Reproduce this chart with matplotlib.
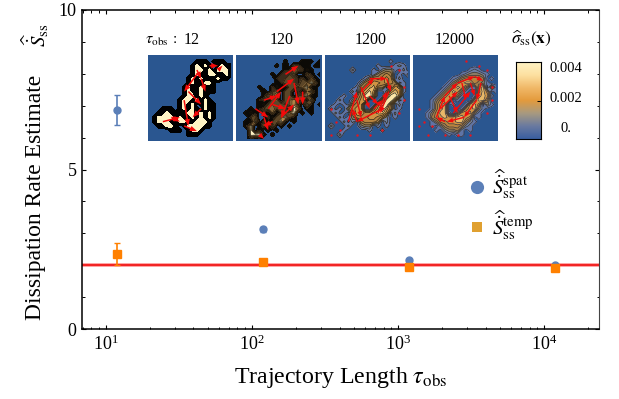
import numpy as np
import matplotlib
matplotlib.use("Agg")
import matplotlib.pyplot as plt
from matplotlib.colors import LinearSegmentedColormap
from matplotlib.ticker import LogLocator, NullFormatter, MultipleLocator

plt.rcParams['font.family'] = ['Liberation Serif', 'DejaVu Serif']
plt.rcParams['mathtext.fontset'] = 'stix'

tau_obs = [12, 120, 1200, 12000]
spat = [6.85, 3.12, 2.15, 2.0]
spat_err = [0.47, 0.08, 0.03, 0.02]
temp = [2.35, 2.1, 1.95, 1.92]
temp_err = [0.35, 0.1, 0.03, 0.02]
true_rate = 2.02

panel_titles = ["12", "120", "1200", "12000"]

# density of the entropy map, read by eye on a 20x20 grid (0-9)
grid_12 = [
    "....................",
    "...........222.222..",
    "..........29292.2922",
    "..........29929.9992",
    "..........2922992292",
    ".........29292.2922.",
    ".........2922992....",
    "........29.29.22....",
    "........29229222....",
    "........299292......",
    ".......29929292.....",
    ".......2929.2922....",
    "...222.29292.922....",
    "..22922229929292....",
    ".299992922929292....",
    ".29992299229992.....",
    "..22992.2999922.....",
    ".....222.2992.......",
    ".........222........",
    "....................",
]
grid_120 = [
    "....................",
    "...........2...222.2",
    ".........2.3.4423.22",
    "...........33544.2..",
    "........2.3444..53.2",
    ".........3445434.52.",
    ".........23554355942",
    ".....2..4.3.55459.2.",
    "......3.45.55.4.592.",
    "......2947.55.459.2.",
    ".....34.55.55745.9..",
    ".....3.45554573.92.2",
    "...2.3456455.96.22..",
    "..3.3.3.5.4459.2.2..",
    "...45..5.55942......",
    "..3.9.4.4592.2......",
    "..39.25.9.2.2.......",
    "...9.3.2.2..........",
    "...9992.2...........",
    "...3.2..............",
]
grid_1200 = [
    "....................",
    "...............1....",
    "............1...121.",
    "......2....1.2331.2.",
    "...........13454.1.2",
    ".........1354565.2..",
    "........245665654.1.",
    ".......1456744.3671.",
    "......2.5686..26761.",
    "....1..35895..5896..",
    "...2..2467...4895.1.",
    "..1.1.456...5794.2..",
    ".2.1.3566..46964.1..",
    "..2.1.467556775.2...",
    "...2.1355566542.1...",
    "....2.2.45554.2.....",
    ".2...2..233.1.1.....",
    "....1.....1..1......",
    "...2................",
    "....................",
]
grid_12000 = [
    "....................",
    "....................",
    "....................",
    ".............121....",
    "...........1233321..",
    ".........12455554.1.",
    "........1356775431..",
    ".......1357641167.51",
    "......1357631.0575.1",
    ".....1356641..16761.",
    "....13566.1...5774..",
    "....1467.1..1675.31.",
    "....14670..156731...",
    "...135771.366731....",
    "...14567667765.1....",
    "....13556677421.....",
    "....1.24555421......",
    ".....1.23341.1......",
    "........1.11........",
    "....................",
]
grids = [grid_12, grid_120, grid_1200, grid_12000]

# flow arrows on each map: x, y, dx, dy in grid cells
arrows_12 = [(9, 8, 3, 3), (8, 10, 1, 6), (11, 4, -3, 4), (14, 2, 2, 0), (8, 16, 3, 1.2), (5, 14, 2, 1),
             (12, 5, 1, 3), (3, 15, 4, -1), (12, 12, -2, 2), (16, 3, 1, -1), (11, 3, 1, 2)]
arrows_120 = [(6, 10, 3, -1), (7, 12, 3, -4), (9, 8, 4, -3), (8, 11, 3, 1), (12, 9, -2, 5), (13, 6, 1, 5),
              (6, 14, 1, 3), (8, 15, -2, 1), (11, 4, 3, -2), (15, 8, 0, 3), (4, 12, 3, 2), (10, 14, 3, -3), (5, 18, 1, 1)]
arrows_1200 = [(5, 15, 2, -7), (8, 8, 3, -3), (10, 5, 4, 0), (14, 5, 1, 3), (14.5, 8, -2, 5), (13, 12, -6, 3),
               (7, 15, -1, -3), (8, 7, 2, 5), (11, 12, 2, -2), (12, 13, 2, -5), (7, 10, 1, 4), (10, 9, 2, 2)]
arrows_12000 = [(5, 14, 2, -5), (7, 9, 3, -3), (10, 6, 4, -1.5), (14, 4.5, 2, 1), (15.5, 6, -1, 4), (14.5, 10, -3, 4),
                (11.5, 14, -4, 1), (7, 15, -2, -1), (8, 9, 2, 4), (11, 6, 1, 4), (13, 6, 1, 3), (6, 12, 4, -4), (9, 13, 4, -5)]
arrows = [arrows_12, arrows_120, arrows_1200, arrows_12000]
arrow_width = [0.018, 0.018, 0.016, 0.016]

# small dots of flow away from the main loop
dots_1200 = [(1, 18), (3, 17), (17, 3), (18, 7), (15, 2), (2, 15), (10, 18), (13, 17), (17, 13), (7, 18), (18, 10), (1, 12)]
dots_12000 = [(1, 16), (3, 18), (17, 3), (18, 7), (15, 2), (2, 15), (10, 18), (13, 18), (17, 13), (7, 18), (18, 10), (12, 1), (1, 12), (4, 16)]
dots = [[], [], dots_1200, dots_12000]

bg = '#2a5690'
ramp_levels = [0.5, 1.5, 2.5, 3.5, 4.5, 5.5, 6.5, 7.5, 10]
ramp_colors = ['#5f74a6', '#7080a0', '#8a7c64', '#a07c48', '#b8843f', '#d09444', '#e8b868', '#fbe6a8']
panel_levels = [
    [1, 7, 10],
    [1, 3, 4, 5, 6, 7, 8, 10],
    ramp_levels,
    ramp_levels,
]
panel_colors = [
    ['black', '#fff3c4'],
    ['#0c0a06', '#3a2c1c', '#5c4628', '#86663a', '#b08448', '#d8a868', '#fff3c4'],
    ramp_colors,
    ramp_colors,
]
contour_lw = [0.0, 0.4, 0.5, 0.5]
contour_col = ['black', '#1c1408', '#2a2418', '#33333c']

cmap = LinearSegmentedColormap.from_list(
    "sigma", ['#3a5fa0', '#6a7aa0', '#a89a80', '#e39a3c', '#f0b868', '#fde0a0', '#fff3c4'])

W, H = 619, 399


def px_axes(fig, x0, y0, x1, y1):
    return fig.add_axes([x0 / W, 1 - y1 / H, (x1 - x0) / W, (y1 - y0) / H])


fig = plt.figure(figsize=(W / 100, H / 100), dpi=100)
ax = px_axes(fig, 82, 10, 599, 329)

ax.set_xscale('log')
ax.set_xlim(6.9, 23900)
ax.set_ylim(0, 10)

ax.axhline(true_rate, color='#ff9090', lw=2.6, zorder=2)
ax.axhline(true_rate, color='#f01010', lw=1.2, zorder=2)

ax.errorbar(tau_obs, spat, yerr=spat_err, fmt='o', color='#5b7fb8', ms=5, elinewidth=1.2, capsize=2, capthick=1, zorder=3)
ax.errorbar(tau_obs, temp, yerr=temp_err, fmt='s', color='#ff8000', ms=5.5, elinewidth=1.2, capsize=2, capthick=1, zorder=4)

ax.set_yticks([0, 5, 10])
ax.yaxis.set_minor_locator(MultipleLocator(1))
ax.xaxis.set_major_locator(LogLocator(base=10, numticks=8))
ax.xaxis.set_minor_locator(LogLocator(base=10, subs=np.arange(2, 10), numticks=8))
ax.xaxis.set_minor_formatter(NullFormatter())
ax.tick_params(which='major', direction='in', length=3.2, width=0.8, top=True, right=True, labelsize=13, pad=4)
ax.tick_params(which='minor', direction='in', length=1.8, width=0.7, top=True, right=True)
ax.set_xticks([10, 100, 1000, 10000], ["$\\mathregular{10^{1}}$", "$\\mathregular{10^{2}}$", "$\\mathregular{10^{3}}$", "$\\mathregular{10^{4}}$"])
for side in ['left', 'bottom', 'top']:
    ax.spines[side].set_linewidth(1.1)
ax.spines['right'].set_color('#444444')

fig.text(341 / W, 1 - 378 / H, r"Trajectory Length $\tau_{\mathrm{obs}}$", fontsize=17.2, ha='center', va='center')
fig.text(36 / W, 1 - 197 / H, "Dissipation Rate Estimate", fontsize=17, rotation=90, ha='center', va='center')
fig.text(36 / W, 1 - 35 / H, r"$\widehat{\dot{S}}_{\mathrm{ss}}$", fontsize=15, rotation=90, ha='center', va='center')

# maps
panel_x = [(148, 233), (236, 322), (325, 410), (413, 498)]
title_x = [192, 282, 371, 455]
for i, (x0, x1) in enumerate(panel_x):
    sub = px_axes(fig, x0, 55, x1, 141)
    z = np.array([[0 if c in '. ' else int(c) for c in r.ljust(20, '.')[:20]] for r in grids[i]], dtype=float)
    sub.set_facecolor(bg)
    sub.contourf(z, levels=panel_levels[i], colors=panel_colors[i])
    if contour_lw[i] > 0:
        sub.contour(z, levels=panel_levels[i][:-1], colors=contour_col[i], linewidths=contour_lw[i])
    for xa, ya, dx, dy in arrows[i]:
        sub.quiver(xa, ya, dx, dy, angles='xy', scale_units='xy', scale=1, color='#f40a0a',
                   width=arrow_width[i], headwidth=3.5, headlength=4.5, zorder=5)
    if dots[i]:
        sub.scatter([d[0] for d in dots[i]], [d[1] for d in dots[i]], s=3, color='#e8141c', lw=0, zorder=5)
    sub.set_xlim(-0.5, 19.5)
    sub.set_ylim(19.5, -0.5)
    sub.set_xticks([])
    sub.set_yticks([])
    for s in sub.spines.values():
        s.set_visible(False)
    fig.text(title_x[i] / W, 1 - 40 / H, panel_titles[i], fontsize=11.5, ha='center', va='center')

fig.text(161 / W, 1 - 40 / H, r"$\tau_{\mathrm{obs}}\,:$", fontsize=11.5, ha='center', va='center')
fig.text(531 / W, 1 - 38 / H, r"$\widehat{\sigma}_{\mathrm{ss}}(\mathbf{x})$", fontsize=12.5, ha='center', va='center')

# colorbar
cax = px_axes(fig, 516, 62, 541, 139)
cax.imshow(np.linspace(1, 0, 128)[:, None], cmap=cmap, aspect='auto', extent=[0, 1, 0, 0.0047])
cax.set_xticks([])
cax.yaxis.tick_right()
cax.set_yticks([0.0023], [""])
cax.tick_params(axis='y', direction='in', length=3, width=0.7)
fig.text(565.5 / W, 1 - 68 / H, "0.004", fontsize=10.5, ha='center', va='center')
fig.text(565.5 / W, 1 - 98 / H, "0.002", fontsize=10.5, ha='center', va='center')
fig.text(566 / W, 1 - 128 / H, "0.", fontsize=10.5, ha='center', va='center')

# legend
lax = fig.add_axes([0, 0, 1, 1], facecolor='none')
lax.set_xlim(0, W)
lax.set_ylim(H, 0)
lax.axis('off')
lax.plot([477], [187], 'o', color='#5b7fb8', ms=9.5, mew=0)
lax.plot([477], [227], 's', color='#e0a030', ms=6.5, mew=0)
fig.text(492 / W, 1 - 184 / H, r"$\widehat{\dot{S}}_{\mathrm{ss}}^{\mathrm{spat}}$", fontsize=15, va='center')
fig.text(492 / W, 1 - 225 / H, r"$\widehat{\dot{S}}_{\mathrm{ss}}^{\mathrm{temp}}$", fontsize=15, va='center')

fig.savefig("out.png", dpi=100)
